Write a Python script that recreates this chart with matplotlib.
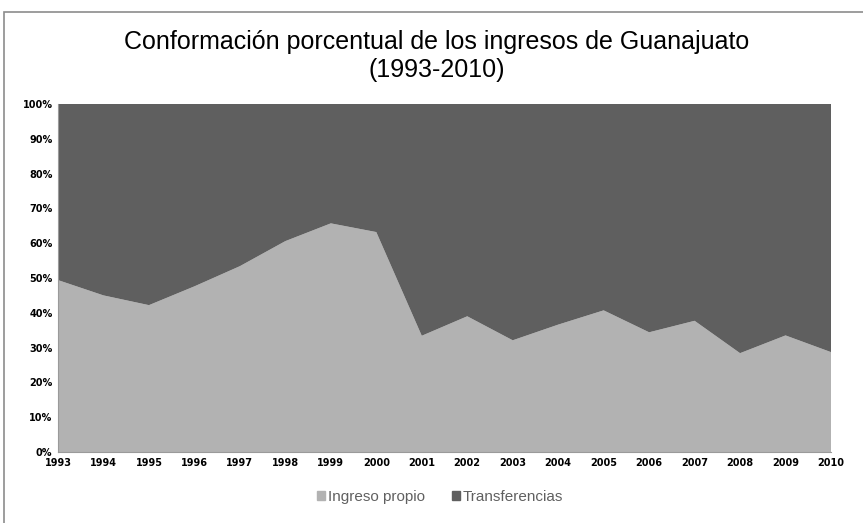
import matplotlib.pyplot as plt
import matplotlib.patches as mpatches
from matplotlib.ticker import FuncFormatter

years = list(range(1993, 2011))
ingreso_propio = [49.4, 45.0, 42.2, 47.6, 53.4, 60.6, 65.7, 63.2, 33.4, 39.0,
                  32.1, 36.6, 40.7, 34.4, 37.7, 28.4, 33.5, 28.7]
transferencias = [100 - v for v in ingreso_propio]

labels = ['Ingreso propio', 'Transferencias']
colors = ['#b2b2b2', '#5f5f5f']

fig = plt.figure(figsize=(8.63, 5.23), dpi=100)
fig.patches.append(mpatches.Rectangle((4 / 863, -0.01), 1.0, 1 - 7 / 523,
                                      transform=fig.transFigure, fill=False,
                                      edgecolor='#8c8c8c', linewidth=1.2))

ax = fig.add_axes([58 / 863, 1 - 452 / 523, (831 - 58) / 863, (452 - 104) / 523])
ax.stackplot(years, ingreso_propio, transferencias, colors=colors, labels=labels,
             linewidth=0)

ax.set_xlim(1993, 2010)
ax.set_ylim(0, 100)
ax.set_xticks(years)
ax.set_yticks(range(0, 101, 10))
ax.yaxis.set_major_formatter(FuncFormatter(lambda v, _: f'{int(v)}%'))
ax.tick_params(length=0, labelsize=7, pad=4)
for lbl in ax.get_xticklabels() + ax.get_yticklabels():
    lbl.set_fontweight('bold')
    lbl.set_family('Liberation Sans Narrow')
for side in ['top', 'right']:
    ax.spines[side].set_visible(False)
for side in ['left', 'bottom']:
    ax.spines[side].set_color('#9a9a9a')
    ax.spines[side].set_linewidth(0.8)

fig.text(437 / 863, 1 - 56 / 523,
         'Conformación porcentual de los ingresos de Guanajuato\n(1993-2010)',
         ha='center', va='center', fontsize=18, family='Liberation Sans',
         linespacing=1.25)

handles = [mpatches.Patch(color=c) for c in colors]
fig.legend(handles, labels, loc='center', bbox_to_anchor=(440 / 863, 1 - 497 / 523),
           ncol=2, frameon=False, handlelength=0.55, handleheight=0.55,
           handletextpad=0.15, columnspacing=1.8, labelcolor='#606060',
           prop={'family': 'Liberation Sans', 'size': 11})

fig.savefig('out.png', dpi=100)
